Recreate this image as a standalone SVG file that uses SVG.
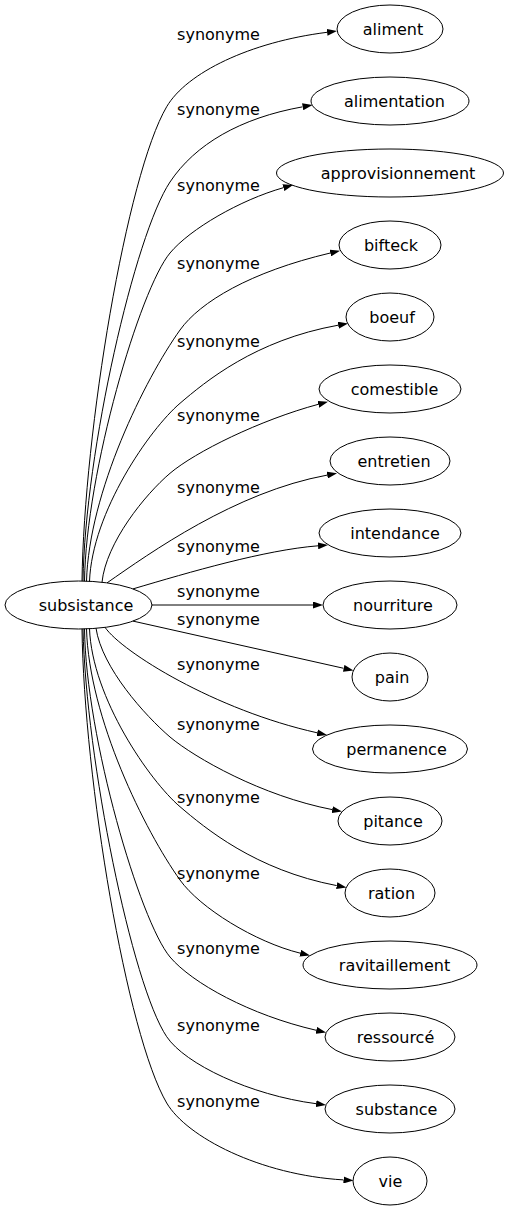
<svg xmlns="http://www.w3.org/2000/svg" width="509" height="1211" viewBox="0 0 509 1211">
<defs>
<marker id="arr" viewBox="0 0 10 7" markerWidth="10" markerHeight="7" refX="0" refY="3.5" orient="auto" markerUnits="userSpaceOnUse"><path d="M0,0 L10,3.5 L0,7 z" fill="#000"/></marker>
<style>
.node ellipse{fill:none;stroke:#000;stroke-width:1}
.node text{font-family:"DejaVu Sans",Verdana,sans-serif;font-size:16px;fill:#000;text-anchor:middle}
.edges path{fill:none;stroke:#000;stroke-width:1;marker-end:url(#arr)}
.edges text{font-family:"DejaVu Sans",Verdana,sans-serif;font-size:16px;fill:#000;text-anchor:middle}
</style>
</defs>
<rect width="509" height="1211" fill="#fff"/>
<g id="edges" class="edges">
<path d="M82,581.1 C84,431.6 126.7,174.7 166.7,106.7 C186.7,72.7 250,42 327.1,32.3"/>
<path d="M83,581.1 C85,451.6 135,234.5 170,182 C195,144.5 240,118 302.7,106.8"/>
<path d="M84.5,581.2 C86,471.7 140,289 170,253 C190,229 240,200 283.4,187.7"/>
<path d="M86.5,581.3 C89,491.8 145,379 180,330 C200,302 250,272 330.3,253"/>
<path d="M89.5,581.5 C92,512 150,428.8 180,403.3 C205,382 255,340 338.2,325.2"/>
<path d="M102,582.3 C106,542.8 145,494.5 170,473.3 C195,452 260,420 318.3,404.3"/>
<path d="M107,582.9 C150,553 235,492 327.2,475.1"/>
<path d="M133,588.9 C190,572 265,550 318,545.8"/>
<path d="M151.7,605 L313,605"/>
<path d="M133,621.1 L343.7,668.3"/>
<path d="M105,627.3 C122,652 215,710 317.2,732.8"/>
<path d="M96,628.2 C102,668 145,715.5 170,737 C195,758 262,796 332.2,809.6"/>
<path d="M89.5,628.5 C92,698 150,781.2 180,806.7 C205,828 255,870 336.7,885.6"/>
<path d="M86.5,628.7 C89,718.2 145,831 180,880 C200,908 255,942 300.3,953.2"/>
<path d="M84.5,628.8 C86,738.3 140,921 170,957 C192,983 250,1015 316.3,1030.3"/>
<path d="M83,628.9 C86,760 132,985 166.7,1036.7 C185,1064 250,1095 316.1,1103.7"/>
<path d="M82,628.9 C84,779 126.7,1035 166.7,1103 C186.7,1137 260,1175 343.5,1179.9"/>
<text x="218.5" y="40.4">synonyme</text>
<text x="218.5" y="115.4">synonyme</text>
<text x="218.5" y="191.4">synonyme</text>
<text x="218.5" y="268.7">synonyme</text>
<text x="218.5" y="347">synonyme</text>
<text x="218.5" y="421.4">synonyme</text>
<text x="218.5" y="492.7">synonyme</text>
<text x="218.5" y="552">synonyme</text>
<text x="218.5" y="597">synonyme</text>
<text x="218.5" y="624.7">synonyme</text>
<text x="218.5" y="670.4">synonyme</text>
<text x="218.5" y="730.4">synonyme</text>
<text x="218.5" y="803">synonyme</text>
<text x="218.5" y="878.7">synonyme</text>
<text x="218.5" y="953.7">synonyme</text>
<text x="218.5" y="1031.4">synonyme</text>
<text x="218.5" y="1107">synonyme</text>
</g>
<g id="n-subsistance" class="node"><ellipse cx="78.5" cy="605" rx="73.5" ry="24"/><text x="86" y="611">subsistance</text></g>
<g id="n-aliment" class="node"><ellipse cx="390" cy="29" rx="53" ry="24"/><text x="393" y="35">aliment</text></g>
<g id="n-alimentation" class="node"><ellipse cx="390" cy="101" rx="79" ry="24"/><text x="394.5" y="107">alimentation</text></g>
<g id="n-approvisionnement" class="node"><ellipse cx="390" cy="173" rx="113.5" ry="24"/><text x="398" y="179">approvisionnement</text></g>
<g id="n-bifteck" class="node"><ellipse cx="390" cy="245" rx="51" ry="24"/><text x="391" y="251">bifteck</text></g>
<g id="n-boeuf" class="node"><ellipse cx="390" cy="317" rx="44" ry="24"/><text x="392" y="323">boeuf</text></g>
<g id="n-comestible" class="node"><ellipse cx="390" cy="389" rx="71" ry="24"/><text x="394.5" y="395">comestible</text></g>
<g id="n-entretien" class="node"><ellipse cx="390" cy="461" rx="60" ry="24"/><text x="394" y="467">entretien</text></g>
<g id="n-intendance" class="node"><ellipse cx="390" cy="533" rx="71" ry="24"/><text x="395" y="539">intendance</text></g>
<g id="n-nourriture" class="node"><ellipse cx="390" cy="605" rx="67" ry="24"/><text x="393" y="611">nourriture</text></g>
<g id="n-pain" class="node"><ellipse cx="390" cy="677" rx="38" ry="24"/><text x="392" y="683">pain</text></g>
<g id="n-permanence" class="node"><ellipse cx="390" cy="749" rx="77.5" ry="24"/><text x="396.5" y="755">permanence</text></g>
<g id="n-pitance" class="node"><ellipse cx="390" cy="821" rx="52" ry="24"/><text x="393" y="827">pitance</text></g>
<g id="n-ration" class="node"><ellipse cx="390" cy="893" rx="45" ry="24"/><text x="391.5" y="899">ration</text></g>
<g id="n-ravitaillement" class="node"><ellipse cx="390" cy="965" rx="87" ry="24"/><text x="394.5" y="971">ravitaillement</text></g>
<g id="n-ressource" class="node"><ellipse cx="390" cy="1037" rx="65" ry="24"/><text x="395.5" y="1043">ressourcé</text></g>
<g id="n-substance" class="node"><ellipse cx="390" cy="1109" rx="65" ry="24"/><text x="396.5" y="1115">substance</text></g>
<g id="n-vie" class="node"><ellipse cx="390" cy="1181" rx="37" ry="24"/><text x="390.5" y="1187">vie</text></g>
</svg>
